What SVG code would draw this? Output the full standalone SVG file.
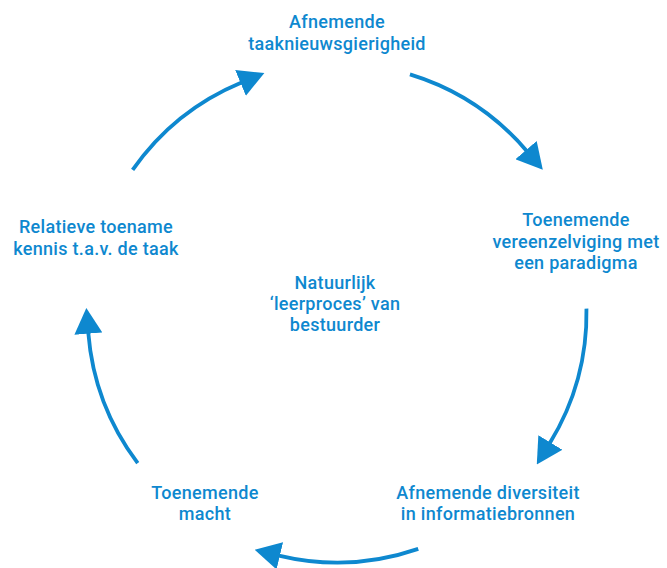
<svg xmlns="http://www.w3.org/2000/svg" width="667" height="568" viewBox="0 0 667 568">
  <style>
    .lbl { font-family: Roboto, "Liberation Sans", sans-serif; font-weight: 500; font-size: 18px; letter-spacing: 0.3px; fill: #0e88cf; text-anchor: middle; }
    .arc { fill: none; stroke: #0e88cf; stroke-width: 3.8; stroke-linecap: butt; }
  </style>
  <defs>
    <marker id="head" markerUnits="userSpaceOnUse" markerWidth="26" markerHeight="28" viewBox="0 0 24 26" refX="1" refY="13" orient="auto">
      <path d="M0,0 L24,13 L0,26 Z" fill="#0e88cf"/>
    </marker>
  </defs>
  <rect width="667" height="568" fill="#ffffff"/>
  <g id="connectors">
    <path class="arc" marker-end="url(#head)" d="M132.62,169.89 A249.5,249.5 0 0 1 241.52,82.49"/>
    <path class="arc" marker-end="url(#head)" d="M409.95,74.40 A249.5,249.5 0 0 1 526.72,150.96"/>
    <path class="arc" marker-end="url(#head)" d="M586.46,308.65 A249.5,249.5 0 0 1 549.73,443.36"/>
    <path class="arc" marker-end="url(#head)" d="M418.23,548.91 A249.5,249.5 0 0 1 278.76,555.61"/>
    <path class="arc" marker-end="url(#head)" d="M137.74,463.15 A249.5,249.5 0 0 1 88.27,332.58"/>
  </g>
  <g id="node-top">
    <text class="lbl" x="337" y="28">Afnemende</text>
    <text class="lbl" x="337" y="50">taaknieuwsgierigheid</text>
  </g>
  <g id="node-right">
    <text class="lbl" x="576" y="226">Toenemende</text>
    <text class="lbl" x="576" y="247.5">vereenzelviging met</text>
    <text class="lbl" x="576" y="269">een paradigma</text>
  </g>
  <g id="node-bottom-right">
    <text class="lbl" x="488" y="499">Afnemende diversiteit</text>
    <text class="lbl" x="488" y="520">in informatiebronnen</text>
  </g>
  <g id="node-bottom-left">
    <text class="lbl" x="205" y="499">Toenemende</text>
    <text class="lbl" x="205" y="520">macht</text>
  </g>
  <g id="node-left">
    <text class="lbl" x="96" y="233">Relatieve toename</text>
    <text class="lbl" x="96" y="255">kennis t.a.v. de taak</text>
  </g>
  <g id="node-center">
    <text class="lbl" x="335" y="289">Natuurlijk</text>
    <text class="lbl" x="335" y="310">‘leerproces’ van</text>
    <text class="lbl" x="335" y="331">bestuurder</text>
  </g>
</svg>
